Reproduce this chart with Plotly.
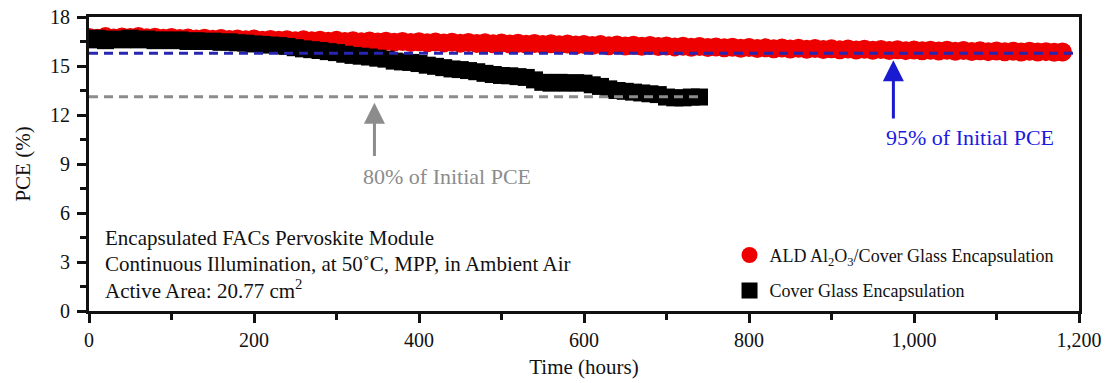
import plotly.graph_objects as go

# ---- data ----
ald_hours = list(range(0, 1190, 10))
ald_pce = [
    16.75, 16.70, 16.80, 16.72, 16.78, 16.74, 16.80, 16.73, 16.76, 16.70,
    16.74, 16.68, 16.72, 16.66, 16.70, 16.64, 16.69, 16.62, 16.66, 16.60,
    16.65, 16.58, 16.62, 16.57, 16.61, 16.55, 16.60, 16.54, 16.58, 16.52,
    16.57, 16.50, 16.55, 16.49, 16.53, 16.47, 16.52, 16.46, 16.50, 16.44,
    16.49, 16.42, 16.47, 16.41, 16.45, 16.39, 16.44, 16.38, 16.42, 16.36,
    16.41, 16.35, 16.39, 16.33, 16.38, 16.31, 16.36, 16.30, 16.34, 16.28,
    16.32, 16.26, 16.31, 16.24, 16.29, 16.22, 16.27, 16.21, 16.25, 16.19,
    16.23, 16.17, 16.21, 16.15, 16.19, 16.13, 16.17, 16.11, 16.15, 16.09,
    16.13, 16.07, 16.11, 16.06, 16.10, 16.04, 16.08, 16.03, 16.07, 16.01,
    16.05, 16.00, 16.04, 15.98, 16.02, 15.97, 16.01, 15.95, 16.00, 15.94,
    15.98, 15.93, 15.97, 15.92, 15.96, 15.90, 15.95, 15.89, 15.93, 15.88,
    15.92, 15.87, 15.91, 15.86, 15.90, 15.85, 15.88, 15.84, 15.86,
]

glass_hours = list(range(0, 750, 10))
glass_pce = [
    16.60, 16.70, 16.55, 16.65, 16.60, 16.70, 16.60, 16.65, 16.55, 16.60,
    16.55, 16.60, 16.50, 16.55, 16.50, 16.52, 16.45, 16.48, 16.42, 16.40,
    16.35, 16.32, 16.28, 16.25, 16.20, 16.12, 16.05, 16.00, 15.95, 15.88,
    15.82, 15.72, 15.65, 15.60, 15.55, 15.48, 15.42, 15.30, 15.25, 15.22,
    15.15, 15.05, 14.98, 14.90, 14.82, 14.78, 14.72, 14.65, 14.55, 14.48,
    14.42, 14.40, 14.35, 14.30, 14.15, 14.00, 13.95, 14.00, 13.95, 13.98,
    13.95, 13.85, 13.75, 13.60, 13.50, 13.45, 13.40, 13.35, 13.30, 13.25,
    13.10, 13.05, 13.05, 13.10, 13.10,
]

ref95_x = [0, 1200]
ref95_y = [15.78, 15.78]
ref80_x = [0, 745]
ref80_y = [13.12, 13.12]

x_ticks = [0, 200, 400, 600, 800, 1000, 1200]
y_ticks = [0, 3, 6, 9, 12, 15, 18]

FONT = "Liberation Serif"

fig = go.Figure()
fig.add_trace(go.Scatter(
    x=ald_hours, y=ald_pce, mode="markers", legendgroup="a",
    name="ALD Al<sub>2</sub>O<sub>3</sub>/Cover Glass Encapsulation",
    marker=dict(symbol="circle", size=19, color="#ee0000", line=dict(width=0)),
))
fig.add_trace(go.Scatter(
    x=glass_hours, y=glass_pce, mode="markers", legendgroup="b",
    name="Cover Glass Encapsulation",
    marker=dict(symbol="square", size=17, color="#000000", line=dict(width=0)),
))
fig.add_trace(go.Scatter(
    x=ref95_x, y=ref95_y, mode="lines", showlegend=False,
    line=dict(color="#2626b0", width=3, dash="9px,6px"),
))
fig.add_trace(go.Scatter(
    x=ref80_x, y=ref80_y, mode="lines", showlegend=False,
    line=dict(color="#8c8c8c", width=3, dash="9px,6px"),
))

annotations = [
    # gray arrow + text
    dict(x=346, y=12.75, ax=346, ay=9.4, xref="x", yref="y", axref="x", ayref="y",
         text="", showarrow=True, arrowhead=2, arrowsize=1.4, arrowwidth=3,
         arrowcolor="#8c8c8c"),
    dict(x=434, y=8.25, xref="x", yref="y", text="80% of Initial PCE", showarrow=False,
         font=dict(family=FONT, size=22, color="#8c8c8c")),
    # blue arrow + text
    dict(x=975, y=15.35, ax=975, ay=11.7, xref="x", yref="y", axref="x", ayref="y",
         text="", showarrow=True, arrowhead=2, arrowsize=1.4, arrowwidth=3,
         arrowcolor="#1a1ad0"),
    dict(x=1068, y=10.65, xref="x", yref="y", text="95% of Initial PCE", showarrow=False,
         font=dict(family=FONT, size=22, color="#1a1ae0")),
    # description text
    dict(x=17, y=4.5, xref="x", yref="y", xanchor="left", showarrow=False,
         text="Encapsulated FACs Pervoskite Module",
         font=dict(family=FONT, size=21, color="#111")),
    dict(x=17, y=2.9, xref="x", yref="y", xanchor="left", showarrow=False,
         text="Continuous Illumination, at 50˚C, MPP, in Ambient Air",
         font=dict(family=FONT, size=21, color="#111")),
    dict(x=17, y=1.3, xref="x", yref="y", xanchor="left", showarrow=False,
         text="Active Area: 20.77 cm<sup>2</sup>",
         font=dict(family=FONT, size=21, color="#111")),
]

fig.update_layout(
    width=1107, height=383,
    margin=dict(l=89, r=28, t=17, b=72),
    paper_bgcolor="white", plot_bgcolor="white",
    font=dict(family=FONT, size=20, color="#111"),
    showlegend=True,
    legend=dict(x=0.647, y=0.13, xanchor="left", yanchor="middle",
                bgcolor="rgba(0,0,0,0)", font=dict(family=FONT, size=18, color="#111"),
                tracegroupgap=9, itemwidth=30),
    annotations=annotations,
)
fig.update_xaxes(
    range=[0, 1200], tickvals=x_ticks, tickformat=",",
    showgrid=False, zeroline=False, automargin=False,
    showline=True, linecolor="#111", linewidth=3, mirror=True,
    ticks="outside", ticklen=9, tickwidth=3, tickcolor="#111",
    minor=dict(dtick=100, ticks="outside", ticklen=6, tickwidth=3, tickcolor="#111"),
    tickfont=dict(family=FONT, size=20, color="#111"),
    title=dict(text="Time (hours)", font=dict(family=FONT, size=21, color="#111"), standoff=10),
)
fig.update_yaxes(
    range=[0, 18], tickvals=y_ticks,
    showgrid=False, zeroline=False, automargin=False,
    showline=True, linecolor="#111", linewidth=3, mirror=True,
    ticks="outside", ticklen=9, tickwidth=3, tickcolor="#111",
    minor=dict(dtick=1.5, ticks="outside", ticklen=6, tickwidth=3, tickcolor="#111"),
    tickfont=dict(family=FONT, size=20, color="#111"),
    ticklabelstandoff=3,
    title=dict(text="PCE (%)", font=dict(family=FONT, size=21, color="#111"), standoff=14),
)

fig.write_html("out.html")
